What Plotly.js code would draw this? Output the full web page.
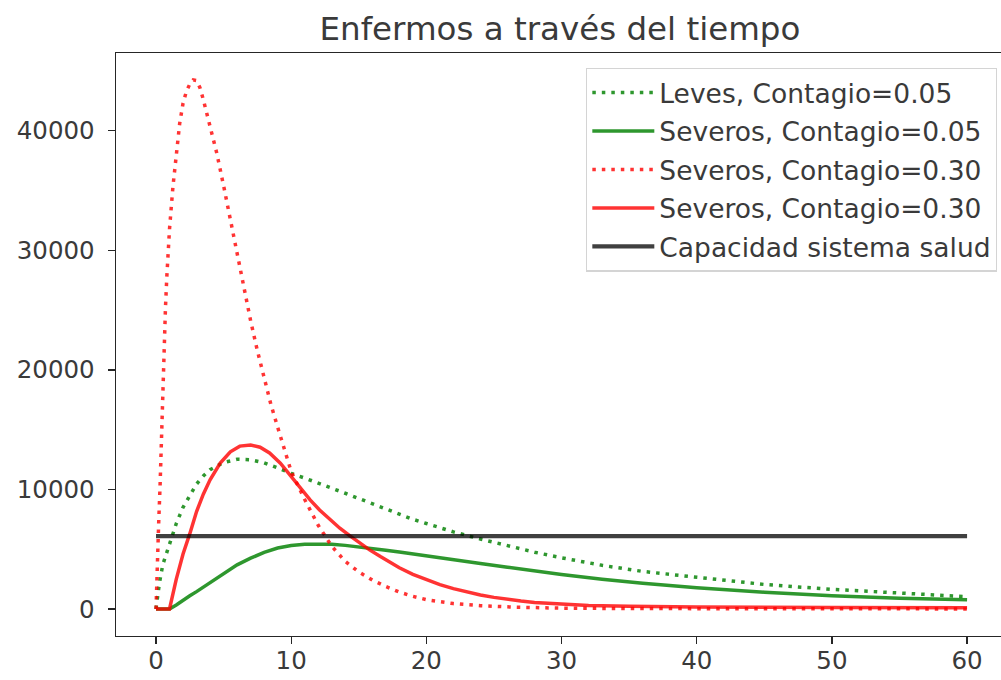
<!DOCTYPE html>
<html>
<head>
<meta charset="utf-8">
<script src="https://cdn.plot.ly/plotly-3.0.1.min.js"></script>
<style>
  html, body { margin: 0; padding: 0; background: #fff; overflow: hidden; }
  #chart { width: 1001px; height: 680px; }
</style>
</head>
<body>
<div id="chart"></div>
<script>
// ---- data ----
const levesX = [0, 0.25, 0.5, 1, 1.5, 2, 2.5, 3, 3.5, 4, 5, 6, 7, 8, 9, 10, 11, 12, 13, 14, 15, 16, 17, 18, 19, 20, 22, 24, 26, 28, 30, 33, 36, 40, 45, 50, 55, 60];
const levesY = [0, 2150, 3700, 5500, 7150, 8500, 9550, 10450, 11120, 11650, 12250, 12520, 12480, 12230, 11800, 11330, 10950, 10550, 10130, 9680, 9240, 8800, 8350, 7920, 7500, 7150, 6450, 5850, 5280, 4750, 4280, 3650, 3140, 2650, 2050, 1640, 1300, 1030];

const sev05X = [0, 1, 1.5, 2, 2.5, 3, 4, 5, 6, 7, 8, 9, 10, 11, 12, 13, 14, 15, 16, 17, 18, 19, 20, 22, 24, 26, 28, 30, 33, 36, 40, 45, 50, 55, 60];
const sev05Y = [0, 0, 330, 750, 1100, 1450, 2200, 3000, 3690, 4250, 4730, 5100, 5310, 5420, 5440, 5410, 5320, 5200, 5060, 4920, 4760, 4590, 4430, 4130, 3810, 3490, 3180, 2890, 2490, 2150, 1780, 1400, 1110, 900, 780];

const sev30dX = [0, 0.1, 0.2, 0.3, 0.4, 0.5, 0.6, 0.7, 0.8, 0.9, 1, 1.25, 1.5, 1.75, 2, 2.25, 2.5, 2.75, 3, 3.25, 3.5, 3.75, 4, 4.5, 5, 5.5, 6, 6.5, 7, 7.5, 8, 8.5, 9, 9.5, 10, 11, 12, 13, 14, 15, 16, 17, 18, 19, 20, 22, 24, 26.5, 30, 35, 40, 50, 60];
const sev30dY = [0, 4500, 7300, 10300, 14500, 18800, 22200, 25200, 27800, 30000, 31800, 35300, 38300, 40600, 42300, 43300, 43900, 44250, 44200, 43600, 42600, 41500, 40400, 38100, 35400, 32600, 29700, 26800, 24100, 21600, 19200, 17100, 15200, 13350, 11500, 9150, 7000, 5250, 3980, 3100, 2420, 1880, 1420, 1060, 780, 450, 280, 150, 70, 35, 20, 10, 5];

const sev30X = [0, 1, 1.5, 2, 2.5, 3, 3.5, 4, 4.75, 5.5, 6.2, 7, 7.7, 8.4, 9.2, 9.9, 10.65, 11.4, 12.1, 12.9, 13.6, 14.35, 15.1, 15.8, 16.6, 17.3, 18, 19, 20, 21, 22, 23, 24, 25, 26, 27, 28, 30, 32, 35, 40, 50, 60];
const sev30Y = [0, 0, 2500, 4600, 6300, 8150, 9600, 10800, 12200, 13150, 13620, 13720, 13530, 13050, 12200, 11220, 10100, 9120, 8280, 7450, 6750, 6110, 5500, 4940, 4380, 3900, 3450, 2900, 2430, 2030, 1700, 1410, 1170, 970, 800, 660, 550, 400, 300, 220, 160, 120, 100];

const capX = [0, 60];
const capY = [6100, 6100];

const names = ["Leves, Contagio=0.05", "Severos, Contagio=0.05", "Severos, Contagio=0.30", "Severos, Contagio=0.30", "Capacidad sistema salud"];
const xTicks = [0, 10, 20, 30, 40, 50, 60];
const yTicks = [0, 10000, 20000, 30000, 40000];
const yTickText = ["0", "10000", "20000", "30000", "40000"];
const titleText = "Enfermos a través del tiempo";

// ---- styles ----
const GREEN = "rgba(0,128,0,0.82)";
const RED = "rgba(255,0,0,0.8)";
const BLACK = "rgba(0,0,0,0.75)";
const DOT = "3.5px,6px";
const FONT = "DejaVu Sans, sans-serif";
const TXT = "#3a3a3a";

const traces = [
  {x: levesX, y: levesY, name: names[0], mode: "lines", line: {color: GREEN, width: 3.5, dash: DOT}, legendgroup: "a"},
  {x: sev05X, y: sev05Y, name: names[1], mode: "lines", line: {color: GREEN, width: 3.5}, legendgroup: "b"},
  {x: sev30dX, y: sev30dY, name: names[2], mode: "lines", line: {color: RED, width: 3.5, dash: DOT}, legendgroup: "c"},
  {x: sev30X, y: sev30Y, name: names[3], mode: "lines", line: {color: RED, width: 3.5}, legendgroup: "d"},
  {x: capX, y: capY, name: names[4], mode: "lines", line: {color: BLACK, width: 4.2}, legendgroup: "e"}
];

const layout = {
  width: 1001, height: 680,
  margin: {l: 116, r: 0, t: 53, b: 44},
  paper_bgcolor: "#fff", plot_bgcolor: "#fff",
  font: {family: FONT, size: 24.5, color: TXT},
  title: {text: titleText, font: {family: FONT, size: 32.5, color: TXT}, x: 0.5594, xanchor: "center", y: 0.958, yanchor: "middle"},
  xaxis: {
    range: [-2.96, 62.51], tickvals: xTicks, ticktext: xTicks.map(String),
    showgrid: false, zeroline: false, showline: true, mirror: true,
    linecolor: "#262626", linewidth: 1.4, ticks: "outside", ticklen: 7, tickwidth: 1.3, tickcolor: "#262626",
    tickfont: {family: FONT, size: 24.5, color: TXT}, ticklabelstandoff: -5
  },
  yaxis: {
    range: [-2260, 46500], tickvals: yTicks, ticktext: yTickText,
    showgrid: false, zeroline: false, showline: true, mirror: false,
    linecolor: "#262626", linewidth: 1.4, ticks: "outside", ticklen: 7, tickwidth: 1.3, tickcolor: "#262626",
    tickfont: {family: FONT, size: 24.5, color: TXT}, ticklabelstandoff: 8
  },
  showlegend: true,
  legend: {
    x: 0.9955, xanchor: "right", y: 0.975, yanchor: "top",
    bgcolor: "rgba(255,255,255,0.85)", bordercolor: "#d4d4d4", borderwidth: 1.3,
    font: {family: FONT, size: 26.5, color: TXT},
    tracegroupgap: 1, itemwidth: 62
  }
};

Plotly.newPlot("chart", traces, layout, {staticPlot: true, displayModeBar: false});
</script>
</body>
</html>
